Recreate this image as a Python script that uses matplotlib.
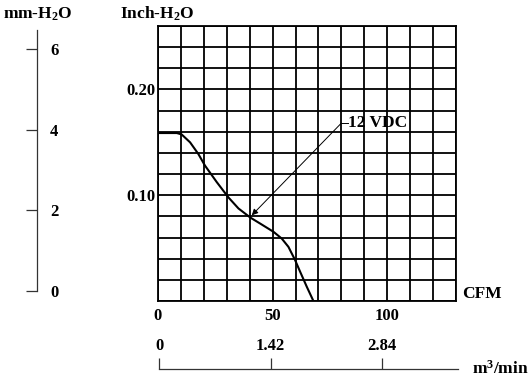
import matplotlib
matplotlib.use("Agg")
import matplotlib.pyplot as plt
import numpy as np

plt.rcParams['font.family'] = ['Liberation Serif', 'DejaVu Serif']
plt.rcParams['font.weight'] = 'bold'
plt.rcParams['mathtext.fontset'] = 'custom'
plt.rcParams['mathtext.rm'] = 'Liberation Serif:bold'
plt.rcParams['mathtext.bf'] = 'Liberation Serif:bold'
plt.rcParams['mathtext.it'] = 'Liberation Serif:bold'

# ---- data ----
cfm = [0, 8.2, 10.3, 14.0, 17.6, 20.5, 25.6, 30.7, 35.1, 40.2, 44.5, 50.4, 54.0, 56.9, 59.8, 62.0, 64.9, 67.8]
inch_h2o = [0.1588, 0.1588, 0.1575, 0.150, 0.139, 0.128, 0.1125, 0.098, 0.0875, 0.079, 0.0733, 0.0654, 0.059, 0.0512, 0.0387, 0.0277, 0.0135, 0.0]
curve_label = "12 VDC"
label_xy = [83.0, 0.168]
arrow_tail = [79.9, 0.168]
arrow_head = [40.9, 0.081]
cfm_ticks = [0, 50, 100]
inch_ticks = [0.10, 0.20]
inch_tick_labels = ["0.10", "0.20"]
mm_ticks = [0, 2, 4, 6]
m3_ticks = [0, 1.42, 2.84]
m3_tick_labels = ["0", "1.42", "2.84"]

W, H = 531, 383
fig = plt.figure(figsize=(W / 100, H / 100), dpi=100)
FS = 12

def fx(px):
    return px / W

def fy(py):
    return 1 - py / H

# ---- main grid axes ----
ax = fig.add_axes([fx(158), fy(301), fx(456) - fx(158), fy(26) - fy(301)])
ax.set_xlim(0, 130)
ax.set_ylim(0, 0.26)
ax.set_xticks(np.arange(0, 131, 10), minor=True)
ax.set_yticks(np.arange(0, 0.261, 0.02), minor=True)
ax.set_xticks(cfm_ticks)
ax.set_yticks(inch_ticks)
ax.set_yticklabels(inch_tick_labels)
ax.tick_params(which='both', length=0)
ax.tick_params(axis='x', pad=5, labelsize=FS)
ax.tick_params(axis='y', pad=2, labelsize=FS)
ax.grid(which='both', color='black', linewidth=1.3)
for s in ax.spines.values():
    s.set_linewidth(1.3)
ax.set_axisbelow(True)

ax.plot(cfm, inch_h2o, color='black', linewidth=1.5, zorder=3)
ax.annotate("", xy=arrow_head, xytext=arrow_tail,
            arrowprops=dict(arrowstyle='-|>', lw=0.7, color='black',
                            mutation_scale=9, shrinkA=0, shrinkB=0), zorder=4)
ax.plot([arrow_tail[0], label_xy[0]], [arrow_tail[1], label_xy[1]], color='black', lw=0.7, zorder=4)
ax.text(label_xy[0], label_xy[1], curve_label, fontsize=12.5, fontweight='bold',
        ha='left', va='center', zorder=5)
ax.text(132.5, 0.007, "CFM", fontsize=12.5, fontweight='bold', ha='left', va='center',
        clip_on=False)

# ---- left mm-H2O axis ----
axm = fig.add_axes([fx(37), fy(290.7), 0.0001, fy(30) - fy(290.7)])
axm.set_ylim(0, (290.7 - 30) / ((290.7 - 49) / 6))
axm.set_xticks([])
axm.set_yticks(mm_ticks)
axm.set_yticklabels([str(v) for v in mm_ticks])
for k in ['top', 'bottom', 'right']:
    axm.spines[k].set_visible(False)
axm.spines['left'].set_linewidth(0.9)
axm.spines['left'].set_color('#333333')
axm.patch.set_visible(False)
axm.tick_params(axis='y', left=True, right=False, labelleft=False, labelright=True,
                direction='out', length=8, width=0.9, color='#333333', pad=1.5, labelsize=FS)

# ---- bottom m3/min axis ----
axb = fig.add_axes([fx(159), fy(369), fx(458) - fx(159), fy(358) - fy(369)])
axb.set_xlim(0, (458 - 159) / ((382 - 159) / 2.84))
axb.set_ylim(0, 1)
axb.set_yticks([])
axb.set_xticks(m3_ticks)
axb.set_xticklabels(m3_tick_labels)
for k in ['top', 'left', 'right']:
    axb.spines[k].set_visible(False)
axb.spines['bottom'].set_linewidth(0.9)
axb.spines['bottom'].set_color('#333333')
axb.patch.set_visible(False)
axb.tick_params(axis='x', bottom=True, top=False, labelbottom=False, labeltop=True,
                direction='in', length=8, width=0.9, color='#333333', pad=3.0, labelsize=FS)

# ---- axis titles ----
fig.text(fx(37.5), fy(14), r"mm-H$_{2}$O", fontsize=12.5, fontweight='bold', ha='center', va='center')
fig.text(fx(157), fy(14), r"Inch-H$_{2}$O", fontsize=12.5, fontweight='bold', ha='center', va='center')
fig.text(fx(472), fy(369), r"m$^{3}$/min", fontsize=12.5, fontweight='bold', ha='left', va='center')

fig.savefig("out.png", dpi=100)
